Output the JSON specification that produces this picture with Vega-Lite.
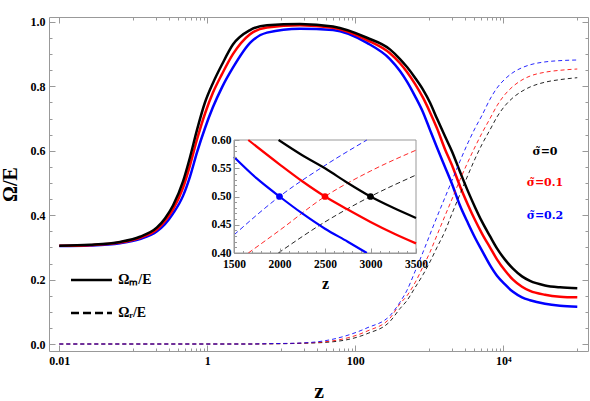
{
  "$schema": "https://vega.github.io/schema/vega-lite/v6.json",
  "width": 539,
  "height": 334,
  "autosize": "none",
  "padding": {"left": 49, "top": 17, "right": 2, "bottom": 50},
  "background": "white",
  "config": {
    "view": {"stroke": null},
    "font": "Liberation Serif",
    "axis": {
      "domainColor": "#999999",
      "tickColor": "#999999",
      "labelColor": "#000000",
      "labelFont": "Liberation Serif",
      "labelFontWeight": "bold",
      "labelFontSize": 12,
      "titleFont": "Liberation Serif",
      "titleFontWeight": "bold",
      "titleColor": "#000000",
      "grid": false,
      "labelFlush": false,
      "labelOverlap": false,
      "labelBound": false
    }
  },
  "datasets": {
    "main": [
      {"z": 0.01, "m0": 0.305, "m1": 0.305, "m2": 0.304, "r0": 0, "r1": 0, "r2": 0},
      {"z": 0.026, "m0": 0.308, "m1": 0.307, "m2": 0.306, "r0": 0, "r1": 0, "r2": 0},
      {"z": 0.066, "m0": 0.317, "m1": 0.315, "m2": 0.313, "r0": 0, "r1": 0, "r2": 0},
      {"z": 0.123, "m0": 0.333, "m1": 0.33, "m2": 0.326, "r0": 0, "r1": 0, "r2": 0},
      {"z": 0.209, "m0": 0.362, "m1": 0.356, "m2": 0.35, "r0": 0, "r1": 0, "r2": 0},
      {"z": 0.268, "m0": 0.39, "m1": 0.382, "m2": 0.372, "r0": 0, "r1": 0, "r2": 0},
      {"z": 0.344, "m0": 0.43, "m1": 0.418, "m2": 0.405, "r0": 0, "r1": 0, "r2": 0},
      {"z": 0.47, "m0": 0.505, "m1": 0.485, "m2": 0.46, "r0": 0, "r1": 0, "r2": 0},
      {"z": 0.584, "m0": 0.58, "m1": 0.555, "m2": 0.52, "r0": 0, "r1": 0, "r2": 0},
      {"z": 0.726, "m0": 0.665, "m1": 0.635, "m2": 0.595, "r0": 0, "r1": 0, "r2": 0},
      {"z": 0.93, "m0": 0.75, "m1": 0.715, "m2": 0.67, "r0": 0, "r1": 0, "r2": 0},
      {"z": 1.19, "m0": 0.81, "m1": 0.78, "m2": 0.735, "r0": 0, "r1": 0, "r2": 0},
      {"z": 1.58, "m0": 0.868, "m1": 0.838, "m2": 0.797, "r0": 0, "r1": 0, "r2": 0},
      {"z": 2.22, "m0": 0.93, "m1": 0.9, "m2": 0.858, "r0": 0, "r1": 0, "r2": 0},
      {"z": 3.78, "m0": 0.975, "m1": 0.962, "m2": 0.935, "r0": 0, "r1": 0, "r2": 0},
      {"z": 6.41, "m0": 0.99, "m1": 0.983, "m2": 0.967, "r0": 0.0005, "r1": 0.0007, "r2": 0.001},
      {"z": 17.9, "m0": 0.994, "m1": 0.99, "m2": 0.979, "r0": 0.002, "r1": 0.0025, "r2": 0.003},
      {"z": 50, "m0": 0.986, "m1": 0.982, "m2": 0.975, "r0": 0.007, "r1": 0.01, "r2": 0.015},
      {"z": 144, "m0": 0.951, "m1": 0.944, "m2": 0.935, "r0": 0.032, "r1": 0.04, "r2": 0.05},
      {"z": 294, "m0": 0.915, "m1": 0.903, "m2": 0.885, "r0": 0.07, "r1": 0.08, "r2": 0.088},
      {"z": 402, "m0": 0.885, "m1": 0.872, "m2": 0.848, "r0": 0.11, "r1": 0.125, "r2": 0.13},
      {"z": 500, "m0": 0.86, "m1": 0.845, "m2": 0.815, "r0": 0.135, "r1": 0.15, "r2": 0.167},
      {"z": 641, "m0": 0.827, "m1": 0.808, "m2": 0.77, "r0": 0.175, "r1": 0.19, "r2": 0.225},
      {"z": 822, "m0": 0.79, "m1": 0.765, "m2": 0.72, "r0": 0.215, "r1": 0.24, "r2": 0.285},
      {"z": 1021, "m0": 0.75, "m1": 0.72, "m2": 0.665, "r0": 0.255, "r1": 0.285, "r2": 0.34},
      {"z": 1271, "m0": 0.7, "m1": 0.67, "m2": 0.61, "r0": 0.3, "r1": 0.338, "r2": 0.395},
      {"z": 1630, "m0": 0.645, "m1": 0.605, "m2": 0.55, "r0": 0.35, "r1": 0.398, "r2": 0.455},
      {"z": 2028, "m0": 0.598, "m1": 0.555, "m2": 0.497, "r0": 0.405, "r1": 0.45, "r2": 0.508},
      {"z": 2600, "m0": 0.535, "m1": 0.49, "m2": 0.43, "r0": 0.465, "r1": 0.51, "r2": 0.568},
      {"z": 3337, "m0": 0.474, "m1": 0.432, "m2": 0.375, "r0": 0.525, "r1": 0.566, "r2": 0.625},
      {"z": 4150, "m0": 0.425, "m1": 0.385, "m2": 0.33, "r0": 0.575, "r1": 0.612, "r2": 0.67},
      {"z": 5155, "m0": 0.38, "m1": 0.343, "m2": 0.29, "r0": 0.62, "r1": 0.655, "r2": 0.71},
      {"z": 6610, "m0": 0.335, "m1": 0.3, "m2": 0.245, "r0": 0.665, "r1": 0.7, "r2": 0.76},
      {"z": 8220, "m0": 0.297, "m1": 0.263, "m2": 0.212, "r0": 0.705, "r1": 0.74, "r2": 0.795},
      {"z": 10550, "m0": 0.262, "m1": 0.228, "m2": 0.185, "r0": 0.74, "r1": 0.775, "r2": 0.823},
      {"z": 13520, "m0": 0.234, "m1": 0.2, "m2": 0.162, "r0": 0.765, "r1": 0.8, "r2": 0.843},
      {"z": 17900, "m0": 0.21, "m1": 0.178, "m2": 0.145, "r0": 0.785, "r1": 0.82, "r2": 0.858},
      {"z": 22960, "m0": 0.196, "m1": 0.165, "m2": 0.136, "r0": 0.798, "r1": 0.832, "r2": 0.867},
      {"z": 36600, "m0": 0.182, "m1": 0.153, "m2": 0.125, "r0": 0.813, "r1": 0.844, "r2": 0.876},
      {"z": 58400, "m0": 0.176, "m1": 0.147, "m2": 0.119, "r0": 0.821, "r1": 0.85, "r2": 0.88},
      {"z": 100000, "m0": 0.173, "m1": 0.145, "m2": 0.116, "r0": 0.827, "r1": 0.854, "r2": 0.882}
    ],
    "inset": [
      {"z": 1990, "v": 0.6, "key": "m0"}, {"z": 2250, "v": 0.573, "key": "m0"}, {"z": 2500, "v": 0.55, "key": "m0"}, {"z": 2750, "v": 0.524, "key": "m0"}, {"z": 3000, "v": 0.5, "key": "m0"}, {"z": 3250, "v": 0.48, "key": "m0"}, {"z": 3500, "v": 0.462, "key": "m0"},
      {"z": 1657, "v": 0.6, "key": "m1"}, {"z": 2000, "v": 0.557, "key": "m1"}, {"z": 2250, "v": 0.527, "key": "m1"}, {"z": 2500, "v": 0.5, "key": "m1"}, {"z": 2750, "v": 0.477, "key": "m1"}, {"z": 3000, "v": 0.455, "key": "m1"}, {"z": 3250, "v": 0.435, "key": "m1"}, {"z": 3500, "v": 0.417, "key": "m1"},
      {"z": 1500, "v": 0.57, "key": "m2"}, {"z": 1750, "v": 0.532, "key": "m2"}, {"z": 2000, "v": 0.5, "key": "m2"}, {"z": 2250, "v": 0.47, "key": "m2"}, {"z": 2500, "v": 0.443, "key": "m2"}, {"z": 2750, "v": 0.42, "key": "m2"}, {"z": 2960, "v": 0.4, "key": "m2"},
      {"z": 1500, "v": 0.432, "key": "r2"}, {"z": 2000, "v": 0.5, "key": "r2"}, {"z": 2500, "v": 0.555, "key": "r2"}, {"z": 2960, "v": 0.6, "key": "r2"},
      {"z": 1657, "v": 0.4, "key": "r1"}, {"z": 2000, "v": 0.44, "key": "r1"}, {"z": 2500, "v": 0.5, "key": "r1"}, {"z": 3000, "v": 0.545, "key": "r1"}, {"z": 3500, "v": 0.582, "key": "r1"},
      {"z": 1987, "v": 0.4, "key": "r0"}, {"z": 2500, "v": 0.455, "key": "r0"}, {"z": 3000, "v": 0.5, "key": "r0"}, {"z": 3500, "v": 0.538, "key": "r0"}
    ],
    "pts": [
      {"z": 2000, "v": 0.5, "key": "m2"},
      {"z": 2500, "v": 0.5, "key": "m1"},
      {"z": 3000, "v": 0.5, "key": "m0"}
    ],
    "box": [{"z1": 1500, "z2": 3500, "v1": 0.4, "v2": 0.6}],
    "leg": [
      {"z": 0.0144, "v": 0.199, "k": "m"}, {"z": 0.0515, "v": 0.199, "k": "m"},
      {"z": 0.0144, "v": 0.096, "k": "r"}, {"z": 0.0515, "v": 0.096, "k": "r"}
    ],
    "legtext": [
      {"z": 0.0624, "v": 0.199, "t": "Ωₘ/E"},
      {"z": 0.0624, "v": 0.096, "t": "Ωᵣ/E"}
    ],
    "sig": [
      {"z": 36650, "v": 0.597, "t": "σ̃=0", "key": "m0"},
      {"z": 36650, "v": 0.499, "t": "σ̃=0.1", "key": "m1"},
      {"z": 36650, "v": 0.398, "t": "σ̃=0.2", "key": "m2"}
    ]
  },
  "layer": [
    {
      "layer": [
        {
          "data": {"name": "main"},
          "transform": [{"fold": ["m2", "m1", "m0"], "as": ["key", "value"]}],
          "mark": {"type": "line", "strokeWidth": 2.5, "interpolate": "monotone", "clip": true},
          "encoding": {
            "x": {
              "field": "z", "type": "quantitative",
              "scale": {"type": "log", "domain": [0.00726, 139600], "nice": false},
              "axis": {
                "orient": "bottom",
                "values": [0.01, 0.1, 0.2, 0.3, 0.4, 0.5, 0.6, 0.7, 0.8, 0.9, 1, 10, 20, 30, 40, 50, 60, 70, 80, 90, 100, 1000, 2000, 3000, 4000, 5000, 6000, 7000, 8000, 9000, 10000, 100000],
                "labelExpr": "datum.value == 0.01 ? '0.01' : datum.value == 1 ? '1' : datum.value == 100 ? '100' : datum.value == 10000 ? '10⁴' : ''",
                "tickSize": {"condition": {"test": "datum.value == 0.01 || datum.value == 1 || datum.value == 100 || datum.value == 10000", "value": -6}, "value": -3},
                "labelPadding": 10,
                "title": "z",
                "titleFontSize": 22,
                "titleY": 46,
                "titleBaseline": "alphabetic"
              }
            },
            "y": {
              "field": "value", "type": "quantitative",
              "scale": {"domain": [-0.0217, 1.0155], "nice": false, "zero": false},
              "axis": {
                "orient": "left",
                "values": [0, 0.05, 0.1, 0.15, 0.2, 0.25, 0.3, 0.35, 0.4, 0.45, 0.5, 0.55, 0.6, 0.65, 0.7, 0.75, 0.8, 0.85, 0.9, 0.95, 1],
                "labelExpr": "abs(datum.value * 5 - round(datum.value * 5)) < 0.001 ? format(datum.value, '.1f') : ''",
                "tickSize": {"condition": {"test": "abs(datum.value * 5 - round(datum.value * 5)) < 0.001", "value": -6}, "value": -3},
                "labelPadding": 10,
                "title": "Ω/E",
                "titleFontSize": 20,
                "titleX": -39,
                "titleY": 167,
                "titleAngle": -90,
                "titleAlign": "center",
                "titleBaseline": "middle"
              }
            },
            "color": {"field": "key", "type": "nominal", "scale": {"domain": ["m0", "m1", "m2", "r0", "r1", "r2"], "range": ["#000000", "#ff0000", "#0000ff", "#000000", "#ff0000", "#0000ff"]}, "legend": null}
          }
        },
        {
          "data": {"name": "main"},
          "transform": [{"fold": ["m0"], "as": ["key", "value"]}],
          "mark": {"type": "point", "opacity": 0},
          "encoding": {
            "x": {
              "field": "z", "type": "quantitative",
              "axis": {
                "orient": "top",
                "values": [0.01, 0.1, 0.2, 0.3, 0.4, 0.5, 0.6, 0.7, 0.8, 0.9, 1, 10, 20, 30, 40, 50, 60, 70, 80, 90, 100, 1000, 2000, 3000, 4000, 5000, 6000, 7000, 8000, 9000, 10000, 100000],
                "labels": false,
                "tickSize": {"condition": {"test": "datum.value == 0.01 || datum.value == 1 || datum.value == 100 || datum.value == 10000", "value": -6}, "value": -3},
                "title": null
              }
            },
            "y": {
              "field": "value", "type": "quantitative",
              "axis": {
                "orient": "right",
                "values": [0, 0.05, 0.1, 0.15, 0.2, 0.25, 0.3, 0.35, 0.4, 0.45, 0.5, 0.55, 0.6, 0.65, 0.7, 0.75, 0.8, 0.85, 0.9, 0.95, 1],
                "labels": false,
                "tickSize": {"condition": {"test": "abs(datum.value * 5 - round(datum.value * 5)) < 0.001", "value": -6}, "value": -3},
                "title": null
              }
            }
          }
        },
        {
          "data": {"name": "main"},
          "transform": [{"fold": ["r0", "r1", "r2"], "as": ["key", "value"]}],
          "mark": {"type": "line", "strokeWidth": 1, "strokeDash": [4, 3], "opacity": 0.85, "interpolate": "monotone", "clip": true},
          "encoding": {
            "x": {"field": "z", "type": "quantitative", "axis": null},
            "y": {"field": "value", "type": "quantitative", "axis": null},
            "color": {"field": "key", "type": "nominal", "legend": null}
          }
        },
        {
          "data": {"name": "leg"},
          "transform": [{"filter": "datum.k == 'm'"}],
          "mark": {"type": "line", "strokeWidth": 2.5, "color": "#000000"},
          "encoding": {
            "x": {"field": "z", "type": "quantitative", "axis": null},
            "y": {"field": "v", "type": "quantitative", "axis": null}
          }
        },
        {
          "data": {"name": "leg"},
          "transform": [{"filter": "datum.k == 'r'"}],
          "mark": {"type": "line", "strokeWidth": 2.5, "strokeDash": [8, 4], "color": "#000000"},
          "encoding": {
            "x": {"field": "z", "type": "quantitative", "axis": null},
            "y": {"field": "v", "type": "quantitative", "axis": null}
          }
        },
        {
          "data": {"name": "legtext"},
          "mark": {"type": "text", "align": "left", "baseline": "middle", "font": "Liberation Serif", "fontWeight": "bold", "fontSize": 14, "color": "#000000"},
          "encoding": {
            "x": {"field": "z", "type": "quantitative", "axis": null},
            "y": {"field": "v", "type": "quantitative", "axis": null},
            "text": {"field": "t"}
          }
        },
        {
          "data": {"name": "sig"},
          "mark": {"type": "text", "align": "center", "baseline": "middle", "font": "DejaVu Serif", "fontWeight": "bold", "fontSize": 11},
          "encoding": {
            "x": {"field": "z", "type": "quantitative", "axis": null},
            "y": {"field": "v", "type": "quantitative", "axis": null},
            "text": {"field": "t"},
            "color": {"field": "key", "type": "nominal", "legend": null}
          }
        }
      ],
      "resolve": {"axis": {"x": "independent", "y": "independent"}}
    },
    {
      "layer": [
        {
          "data": {"name": "box"},
          "mark": {"type": "rect", "fill": "#ffffff", "stroke": "#999999", "strokeWidth": 1},
          "encoding": {
            "x": {
              "field": "z1", "type": "quantitative",
              "scale": {"domain": [1500, 3500], "range": [185, 367], "nice": false, "zero": false},
              "axis": {
                "orient": "bottom",
                "offset": -98,
                "zindex": 1,
                "values": [1500, 1600, 1700, 1800, 1900, 2000, 2100, 2200, 2300, 2400, 2500, 2600, 2700, 2800, 2900, 3000, 3100, 3200, 3300, 3400, 3500],
                "labelExpr": "datum.value % 500 == 0 ? format(datum.value, 'd') : ''",
                "tickSize": {"condition": {"test": "datum.value % 500 == 0", "value": -5}, "value": -2.5},
                "labelPadding": 10,
                "labelFontSize": 11.5,
                "title": "z",
                "titleFontSize": 16,
                "titleY": 35,
                "titleBaseline": "alphabetic"
              }
            },
            "x2": {"field": "z2"},
            "y": {
              "field": "v1", "type": "quantitative",
              "scale": {"domain": [0.4, 0.6], "range": [236, 123], "nice": false, "zero": false},
              "axis": {
                "orient": "left",
                "offset": -185,
                "zindex": 1,
                "values": [0.4, 0.41, 0.42, 0.43, 0.44, 0.45, 0.46, 0.47, 0.48, 0.49, 0.5, 0.51, 0.52, 0.53, 0.54, 0.55, 0.56, 0.57, 0.58, 0.59, 0.6],
                "labelExpr": "abs(datum.value * 20 - round(datum.value * 20)) < 0.001 ? format(datum.value, '.2f') : ''",
                "tickSize": {"condition": {"test": "abs(datum.value * 20 - round(datum.value * 20)) < 0.001", "value": -5}, "value": -2.5},
                "labelPadding": 8,
                "labelFontSize": 11.5,
                "title": null
              }
            },
            "y2": {"field": "v2"}
          }
        },
        {
          "data": {"name": "inset"},
          "transform": [{"filter": "indexof(['r0','r1','r2'], datum.key) >= 0"}],
          "mark": {"type": "line", "strokeWidth": 1, "strokeDash": [5, 3], "opacity": 0.85, "interpolate": "monotone"},
          "encoding": {
            "x": {"field": "z", "type": "quantitative", "axis": null},
            "y": {"field": "v", "type": "quantitative", "axis": null},
            "color": {"field": "key", "type": "nominal", "scale": {"domain": ["m0", "m1", "m2", "r0", "r1", "r2"], "range": ["#000000", "#ff0000", "#0000ff", "#000000", "#ff0000", "#0000ff"]}, "legend": null}
          }
        },
        {
          "data": {"name": "inset"},
          "transform": [{"filter": "indexof(['m0','m1','m2'], datum.key) >= 0"}],
          "mark": {"type": "line", "strokeWidth": 2.2, "interpolate": "monotone"},
          "encoding": {
            "x": {"field": "z", "type": "quantitative", "axis": null},
            "y": {"field": "v", "type": "quantitative", "axis": null},
            "color": {"field": "key", "type": "nominal", "legend": null}
          }
        },
        {
          "data": {"name": "pts"},
          "mark": {"type": "circle", "size": 45, "opacity": 1},
          "encoding": {
            "x": {"field": "z", "type": "quantitative", "axis": null},
            "y": {"field": "v", "type": "quantitative", "axis": null},
            "color": {"field": "key", "type": "nominal", "legend": null}
          }
        }
      ],
      "resolve": {"axis": {"x": "independent", "y": "independent"}}
    }
  ],
  "resolve": {"scale": {"x": "independent", "y": "independent"}, "axis": {"x": "independent", "y": "independent"}}
}
